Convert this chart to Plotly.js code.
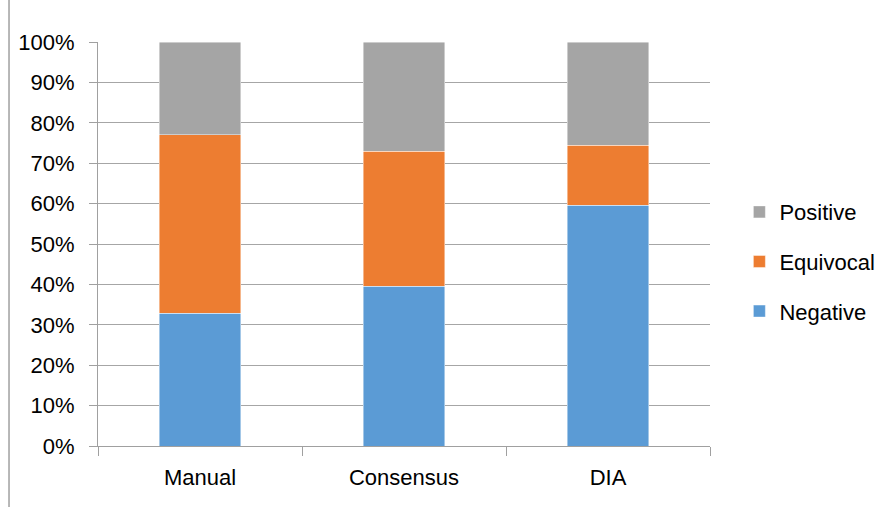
<!DOCTYPE html>
<html>
<head>
<meta charset="utf-8">
<script src="https://cdn.plot.ly/plotly-3.0.1.min.js"></script>
<style>html,body{margin:0;padding:0;background:#fff;}#chart{width:892px;height:507px;}</style>
</head>
<body>
<div id="chart"></div>
<script>
const categories = ["Manual", "Consensus", "DIA"];
const negative = [0.328, 0.396, 0.596];
const equivocal = [0.443, 0.334, 0.148];
const positive = [0.229, 0.270, 0.256];
const seriesNames = ["Negative", "Equivocal", "Positive"];
const seriesColors = ["#5B9BD5", "#ED7D31", "#A5A5A5"];
const yTickVals = [0, 0.1, 0.2, 0.3, 0.4, 0.5, 0.6, 0.7, 0.8, 0.9, 1.0];
const yTickText = ["0%", "10%", "20%", "30%", "40%", "50%", "60%", "70%", "80%", "90%", "100%"];

const values = [negative, equivocal, positive];
const FONT = "Liberation Sans, Arial, sans-serif";

const traces = values.map((v, i) => ({
  type: "bar",
  name: seriesNames[i],
  x: categories,
  y: v,
  legendgroup: seriesNames[i],
  legendrank: 3 - i,
  marker: { color: seriesColors[i], line: { color: "rgba(255,255,255,0.55)", width: 0.8 } },
  hoverinfo: "skip"
}));

const layout = {
  width: 892,
  height: 507,
  margin: { l: 98, r: 182, t: 42, b: 61, pad: 0 },
  paper_bgcolor: "#ffffff",
  plot_bgcolor: "#ffffff",
  barmode: "stack",
  bargap: 0.6,
  font: { family: FONT, size: 22, color: "#000000" },
  showlegend: true,
  legend: {
    x: 1.048, xanchor: "left",
    y: 0.631, yanchor: "top",
    traceorder: "grouped",
    tracegroupgap: 18,
    font: { family: FONT, size: 22, color: "#000000" },
    bgcolor: "rgba(0,0,0,0)",
    itemwidth: 30
  },
  xaxis: {
    type: "category",
    tickson: "boundaries",
    ticks: "outside",
    ticklen: 9,
    tickcolor: "#a0a0a0",
    tickwidth: 1,
    showline: true,
    linecolor: "#a0a0a0",
    linewidth: 1,
    showgrid: false,
    zeroline: false,
    ticklabelstandoff: 12,
    tickfont: { family: FONT, size: 22, color: "#000000" },
    fixedrange: true
  },
  yaxis: {
    range: [0, 1],
    tickmode: "array",
    tickvals: yTickVals,
    ticktext: yTickText,
    ticks: "outside",
    ticklen: 8,
    tickcolor: "#a0a0a0",
    tickwidth: 1,
    showline: true,
    linecolor: "#a0a0a0",
    linewidth: 1,
    showgrid: true,
    gridcolor: "#a6a6a6",
    gridwidth: 1,
    zeroline: false,
    ticklabelstandoff: 10,
    tickfont: { family: FONT, size: 22, color: "#000000" },
    fixedrange: true
  },
  shapes: [{
    type: "line", xref: "paper", yref: "paper",
    x0: -0.1454, x1: -0.1454, y0: -0.16, y1: 1.11,
    line: { color: "#a0a0a0", width: 1.5 }
  }]
};

Plotly.newPlot("chart", traces, layout, { staticPlot: true, displayModeBar: false });
</script>
</body>
</html>
